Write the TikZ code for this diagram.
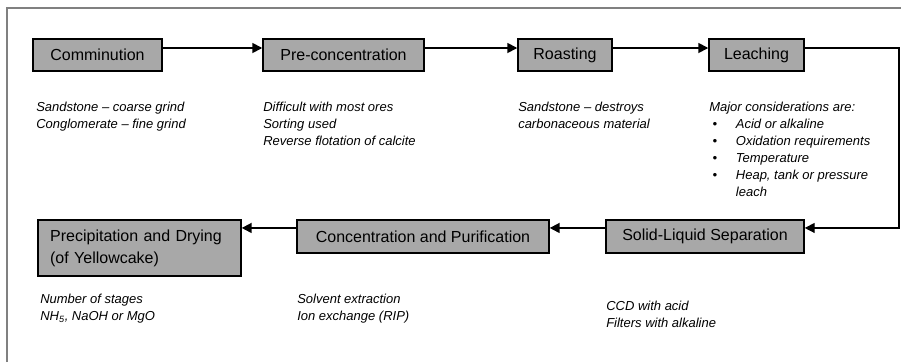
\documentclass[tikz,border=0pt]{standalone}
\usepackage{fontspec}
\setmainfont{Liberation Sans}
\usetikzlibrary{arrows.meta}
\usetikzlibrary{calc}

\definecolor{boxgray}{RGB}{168,168,168}
\definecolor{framegray}{RGB}{128,128,128}

\tikzset{
    stage/.style={draw, line width=1.1pt, fill=boxgray, inner sep=0pt,
        minimum height=24pt, font=\fontsize{12}{14}\selectfont},
    remark/.style={anchor=north west, inner sep=0pt, align=left,
        font=\fontsize{9.75}{12.75}\selectfont\itshape},
    flow/.style={-{Triangle[length=7.5pt,width=7.5pt]}, line width=1.3pt},
}

\newcommand{\bul}{\hspace*{2.5pt}\makebox[17.5pt][l]{\textbullet}}

\begin{document}
\begin{tikzpicture}[x=0.75pt, y=-0.75pt]
            \useasboundingbox (0,0) rectangle (901,362);
            \draw[framegray, line width=0.8pt] (7,362) -- (7,8) -- (901,8);

            \node[stage, minimum width=96.75pt] (comm) at (97.5,55) {Comminution};
            \node[stage, minimum width=120.75pt] (precon) at (343.5,55) {Pre-concentration};
            \node[stage, minimum width=70.5pt] (roast) at (565,55) {Roasting};
            \node[stage, minimum width=71.25pt] (leach) at (756.5,55) {Leaching};
            \node[stage, minimum width=148.5pt, minimum height=24.75pt] (solid) at (705,236.5) {Solid-Liquid Separation};
            \node[stage, minimum width=189pt, minimum height=24.75pt] (conc) at (423,236.5) {Concentration and Purification};
            \node[stage, minimum width=152.25pt, minimum height=42pt, inner xsep=9pt,
                text width=134pt, align=left,
                font=\fontsize{12}{16.5}\selectfont] (precip) at (139.5,248) {Precipitation and Drying\\(of Yellowcake)};

            \node[remark] (commnote) at (36,102) {Sandstone -- coarse grind\\Conglomerate -- fine grind};
            \node[remark] (preconnote) at (263,102) {Difficult with most ores\\Sorting used\\Reverse flotation of calcite};
            \node[remark] (roastnote) at (518,102) {Sandstone -- destroys\\carbonaceous material};
            \node[remark] (leachnote) at (709,102) {Major considerations are:\\
                \bul Acid or alkaline\\
                \bul Oxidation requirements\\
                \bul Temperature\\
                \bul Heap, tank or pressure\\
                \hspace*{20pt}leach};
            \node[remark] (solidnote) at (606,301) {CCD with acid\\Filters with alkaline};
            \node[remark] (concnote) at (297,294) {Solvent extraction\\Ion exchange (RIP)};
            \node[remark] (precipnote) at (40,294) {Number of stages\\NH\textsubscript{5}, NaOH or MgO};

            \coordinate (turn) at (899,140);
            \coordinate (lowrow) at ([yshift=6.4pt]solid.west);

            \draw[flow] ([yshift=5.25pt]comm.east) to ([yshift=5.25pt]precon.west);
            \draw[flow] ([yshift=5.25pt]precon.east) to ([yshift=5.25pt]roast.west);
            \draw[flow] ([yshift=5.25pt]roast.east) to ([yshift=5.25pt]leach.west);
            \draw[flow, line width=1pt] ([yshift=5.25pt]leach.east) -| (turn) |- ([yshift=6.4pt]solid.east);
            \draw[flow] (lowrow) to ([yshift=6.4pt]conc.east);
            \draw[flow] ([yshift=6.4pt]conc.west) to (lowrow -| precip.east);
        \end{tikzpicture}
\end{document}
